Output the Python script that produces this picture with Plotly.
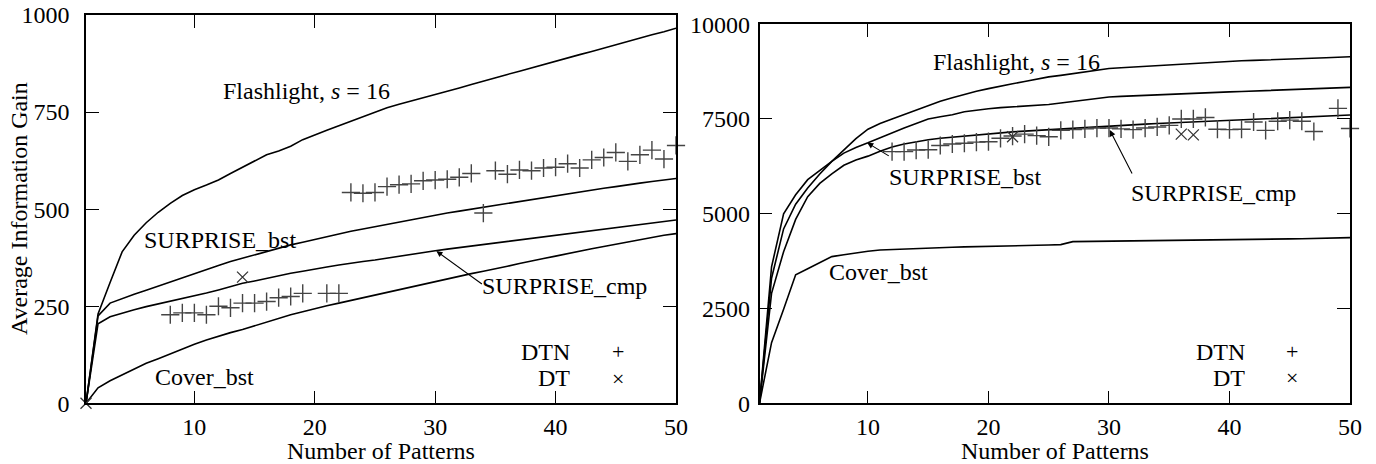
import plotly.graph_objects as go

W, H = 1376, 464
FONT = "Liberation Serif, Times New Roman, serif"
FS = 24

# ---------------- data: left panel ----------------
x_pat = list(range(1, 51))

flash_L = [0, 230, 311, 390, 433, 465, 492, 515, 535, 550,
           562, 575, 592, 608, 624, 640, 650, 662, 679, 690,
           703, 715, 727, 739, 751, 761, 770, 778, 787, 795,
           804, 812, 821, 830, 838, 847, 855, 864, 872, 881,
           889, 898, 906, 915, 923, 932, 940, 949, 957, 966]
sbst_L = [0, 225, 258, 270, 281, 291, 302, 313, 324, 335,
          345, 355, 365, 374, 383, 391, 400, 408, 415, 422,
          430, 437, 443, 449, 455, 461, 467, 473, 479, 484,
          490, 495, 500, 505, 510, 515, 520, 525, 530, 535,
          540, 545, 550, 554, 558, 563, 567, 571, 575, 579]
scmp_L = [0, 205, 223, 233, 241, 249, 256, 263, 269, 276,
          284, 292, 300, 309, 315, 322, 329, 335, 340, 346,
          351, 356, 361, 365, 369, 374, 378, 383, 388, 393,
          397, 401, 405, 409, 413, 416, 420, 424, 428, 432,
          436, 440, 444, 448, 452, 456, 460, 464, 468, 472]
cover_L = [0, 40, 58, 73, 88, 103, 115, 128, 140, 152,
           163, 173, 182, 190, 200, 210, 220, 228, 236, 244,
           251, 258, 265, 272, 279, 286, 292, 299, 306, 313,
           320, 327, 334, 340, 346, 353, 360, 367, 373, 379,
           386, 392, 398, 404, 410, 416, 422, 428, 433, 437]

dtn_L_x = [8, 9, 10, 11, 12, 13, 14, 15, 16, 17, 18, 19, 21, 22,
           23, 24, 25, 26, 27, 28, 29, 30, 31, 32, 33, 34, 35, 36,
           37, 38, 39, 40, 41, 42, 43, 44, 45, 46, 47, 48, 49, 50]
dtn_L_y = [228, 233, 233, 228, 250, 246, 258, 258, 262, 272, 275, 283, 283, 283,
           543, 541, 543, 558, 563, 565, 573, 575, 577, 582, 592, 490, 599, 590,
           601, 599, 606, 608, 617, 606, 627, 633, 646, 623, 640, 652, 629, 664]
dt_L_x = [1, 14]
dt_L_y = [0, 325]

# ---------------- data: right panel ----------------
flash_R = [0, 3300, 4600, 5250, 5680, 6050, 6380, 6680, 6980, 7230,
           7380, 7500, 7620, 7740, 7860, 7970, 8060, 8150, 8230, 8300,
           8370, 8430, 8490, 8560, 8610, 8650, 8690, 8740, 8790, 8830,
           8850, 8870, 8890, 8910, 8930, 8950, 8970, 8990, 9005, 9020,
           9035, 9045, 9060, 9070, 9085, 9095, 9105, 9115, 9128, 9140]
sbst_R = [0, 3600, 5000, 5500, 5900, 6150, 6380, 6600, 6750, 6870,
          7000, 7150, 7260, 7380, 7500, 7560, 7610, 7690, 7740, 7770,
          7800, 7820, 7840, 7860, 7880, 7920, 7960, 8000, 8040, 8080,
          8095, 8110, 8125, 8140, 8150, 8160, 8175, 8190, 8205, 8215,
          8225, 8235, 8245, 8255, 8270, 8280, 8295, 8305, 8320, 8333]
scmp_R = [0, 2900, 4000, 4850, 5450, 5800, 6050, 6280, 6420, 6520,
          6650, 6760, 6840, 6900, 6950, 6990, 7020, 7050, 7080, 7110,
          7140, 7160, 7180, 7200, 7220, 7240, 7260, 7280, 7300, 7320,
          7335, 7350, 7365, 7380, 7395, 7410, 7425, 7440, 7455, 7470,
          7483, 7496, 7509, 7522, 7535, 7548, 7561, 7574, 7588, 7603]
cover_R = [0, 1600, 2480, 3390, 3550, 3710, 3870, 3920, 3970, 4010,
           4045, 4060, 4075, 4085, 4095, 4105, 4115, 4125, 4135, 4140,
           4145, 4150, 4160, 4168, 4175, 4185, 4265, 4270, 4275, 4280,
           4285, 4288, 4291, 4294, 4297, 4300, 4304, 4308, 4312, 4316,
           4320, 4324, 4328, 4332, 4336, 4340, 4345, 4350, 4360, 4370]

dtn_R_x = [12, 13, 14, 15, 16, 17, 18, 19, 20, 21, 22, 23, 24, 25, 26, 27, 28, 29,
           30, 31, 32, 33, 34, 35, 36, 37, 38, 39, 40, 41, 42, 43, 44, 45, 46, 47,
           49, 50]
dtn_R_y = [6640, 6640, 6680, 6690, 6800, 6840, 6860, 6890, 6900, 6990, 7050, 7100,
           7060, 7030, 7200, 7220, 7240, 7260, 7260, 7240, 7220, 7260, 7290, 7330,
           7500, 7500, 7540, 7230, 7220, 7230, 7420, 7200, 7440, 7470, 7440, 7170,
           7780, 7250]
dt_R_x = [22, 36, 37]
dt_R_y = [7030, 7100, 7080]

x_ticks = [10, 20, 30, 40, 50]
y_ticks_L = [0, 250, 500, 750, 1000]
y_ticks_R = [0, 2500, 5000, 7500, 10000]

# ---------------- figure ----------------
fig = go.Figure()
LINE = dict(color="black", width=1.6)

for ys in (flash_L, sbst_L, scmp_L, cover_L):
    fig.add_trace(go.Scatter(x=x_pat, y=ys, mode="lines", line=LINE,
                             xaxis="x", yaxis="y", hoverinfo="skip"))
for ys in (flash_R, sbst_R, scmp_R, cover_R):
    fig.add_trace(go.Scatter(x=x_pat, y=ys, mode="lines", line=LINE,
                             xaxis="x2", yaxis="y2", hoverinfo="skip"))

PLUS = dict(symbol="cross-thin", size=13, line=dict(color="#444", width=1.4))
CROSS = dict(symbol="x-thin", size=11, line=dict(color="#333", width=1.3))
fig.add_trace(go.Scatter(x=dtn_L_x, y=dtn_L_y, mode="markers", marker=PLUS,
                         cliponaxis=False, xaxis="x", yaxis="y"))
fig.add_trace(go.Scatter(x=dt_L_x, y=dt_L_y, mode="markers", marker=CROSS,
                         cliponaxis=False, xaxis="x", yaxis="y"))
fig.add_trace(go.Scatter(x=dtn_R_x, y=dtn_R_y, mode="markers", marker=PLUS,
                         cliponaxis=False, xaxis="x2", yaxis="y2"))
fig.add_trace(go.Scatter(x=dt_R_x, y=dt_R_y, mode="markers", marker=CROSS,
                         cliponaxis=False, xaxis="x2", yaxis="y2"))


def px(v):
    return v / W


def py(v):
    return 1 - v / H


axis_common = dict(showgrid=False, zeroline=False, showline=True, linecolor="black",
                   linewidth=1.5, mirror="ticks", ticks="inside", ticklen=13,
                   tickwidth=1.3, tickcolor="black",
                   tickfont=dict(family=FONT, size=FS, color="black"))

fig.update_layout(
    width=W, height=H, margin=dict(l=0, r=0, t=0, b=0, autoexpand=False),
    paper_bgcolor="white", plot_bgcolor="white", showlegend=False,
    xaxis=dict(domain=[px(86), px(676)], range=[1, 50], tickvals=x_ticks,
               ticktext=[str(v) for v in x_ticks],
               anchor="y", ticklabelstandoff=1, automargin=False, **axis_common),
    yaxis=dict(domain=[py(403.3), py(15)], range=[0, 1000], tickvals=y_ticks_L,
               ticktext=[str(v) for v in y_ticks_L],
               anchor="x", ticklabelstandoff=10, automargin=False, **axis_common),
    xaxis2=dict(domain=[px(759.5), px(1350)], range=[1, 50], tickvals=x_ticks,
                ticktext=[str(v) for v in x_ticks],
                anchor="y2", ticklabelstandoff=1, automargin=False, **axis_common),
    yaxis2=dict(domain=[py(403.3), py(24.2)], range=[0, 10000], tickvals=y_ticks_R,
                ticktext=[str(v) for v in y_ticks_R],
                anchor="x2", ticklabelstandoff=3, automargin=False, **axis_common),
)

ann = []


def label(text, x, y, xanchor="center", size=FS, angle=0):
    ann.append(dict(text=text, x=px(x), y=py(y), xref="paper", yref="paper",
                    xanchor=xanchor, yanchor="middle", showarrow=False,
                    textangle=angle, font=dict(family=FONT, size=size, color="black")))


# left panel labels
label("Flashlight, <i>s</i> = 16", 306, 91)
label("SURPRISE_bst", 220, 240)
label("SURPRISE_cmp", 564, 286)
label("Cover_bst", 204, 377)
label("DTN", 572, 351.7, xanchor="right")
label("DT", 572, 377.7, xanchor="right")
label("+", 618.3, 351.7, size=22)
label("×", 618.3, 378.3, size=22)
label("Average Information Gain", 19, 209, angle=-90)
label("Number of Patterns", 381, 451)

# right panel labels
label("Flashlight, <i>s</i> = 16", 1016, 61.7)
label("SURPRISE_bst", 965, 176.7)
label("SURPRISE_cmp", 1213, 193.3)
label("Cover_bst", 878, 271.7)
label("DTN", 1246.7, 351.7, xanchor="right")
label("DT", 1246.7, 377.7, xanchor="right")
label("+", 1292.3, 351.7, size=22)
label("×", 1292.3, 377.7, size=22)
label("Number of Patterns", 1055, 451)

# arrows (head on curve, tail near label)
ARW = dict(showarrow=True, arrowhead=2, arrowsize=1.1, arrowwidth=1.1,
           arrowcolor="black", text="", standoff=0, startstandoff=0,
           font=dict(size=1))
ann.append(dict(x=30.1, y=392, xref="x", yref="y", ax=47, ay=34, **ARW))
ann.append(dict(x=9.94, y=6872, xref="x2", yref="y2", ax=23, ay=14, **ARW))
ann.append(dict(x=30.07, y=7206, xref="x2", yref="y2", ax=23, ay=45, **ARW))

fig.update_layout(annotations=ann)
fig.write_html("out.html")
